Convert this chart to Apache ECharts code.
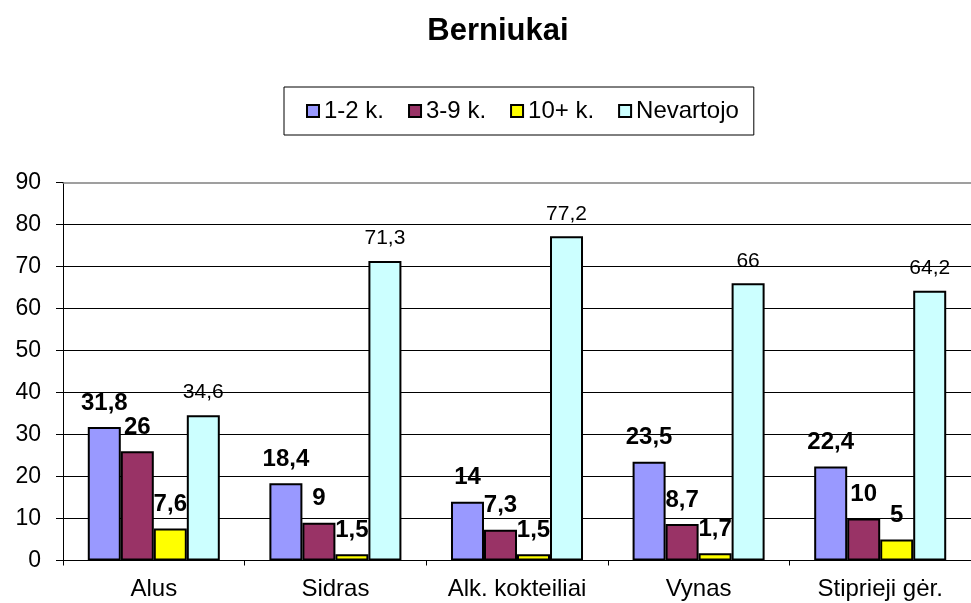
<!DOCTYPE html>
<html>
<head>
<meta charset="utf-8">
<script src="https://cdn.jsdelivr.net/npm/echarts@6/dist/echarts.min.js"></script>
<style>
html,body{margin:0;padding:0;background:#fff;}
#chart{width:971px;height:603px;}
</style>
</head>
<body>
<div id="chart"></div>
<script>
var categories = ['Alus', 'Sidras', 'Alk. kokteiliai', 'Vynas', 'Stiprieji gėr.'];
var seriesNames = ['1-2 k.', '3-9 k.', '10+ k.', 'Nevartojo'];
var s12 = [31.8, 18.4, 14, 23.5, 22.4];
var s39 = [26, 9, 7.3, 8.7, 10];
var s10 = [7.6, 1.5, 1.5, 1.7, 5];
var sNev = [34.6, 71.3, 77.2, 66, 64.2];
var seriesData = [s12, s39, s10, sNev];
var colors = ['#9999FF', '#993366', '#FFFF00', '#CCFFFF'];
var FONT = 'Arial, "Liberation Sans", sans-serif';

function fmt(p) { return String(p.value).replace('.', ','); }

var series = seriesData.map(function (d, i) {
  var last = i === 3;
  return {
    name: seriesNames[i],
    type: 'bar',
    data: d,
    barGap: '0%',
    barCategoryGap: '27.3%',
    itemStyle: { color: colors[i], borderColor: '#000', borderWidth: 2 },
    label: {
      show: true,
      position: 'top',
      distance: 12,
      formatter: fmt,
      color: '#000',
      fontFamily: FONT,
      fontSize: last ? 21 : 24,
      fontWeight: last ? 'normal' : 'bold'
    },
    emphasis: { disabled: true }
  };
});

var chart = echarts.init(document.getElementById('chart'));
chart.setOption({
  backgroundColor: '#fff',
  animation: false,
  title: {
    text: 'Berniukai',
    left: 493,
    textAlign: 'center',
    top: 11,
    textStyle: { fontFamily: FONT, fontSize: 31, fontWeight: 'bold', color: '#000' }
  },
  legend: {
    data: seriesNames,
    left: 284,
    top: 87,
    orient: 'horizontal',
    padding: [12, 15, 12, 22],
    itemGap: 24,
    itemWidth: 12,
    itemHeight: 12,
    icon: 'rect',
    borderColor: '#000',
    borderWidth: 1,
    backgroundColor: '#fff',
    itemStyle: { borderColor: '#000', borderWidth: 2 },
    textStyle: { fontFamily: FONT, fontSize: 24, color: '#000' },
    selectedMode: false
  },
  grid: { left: 63, top: 182.5, width: 912, height: 378, containLabel: false },
  xAxis: [{
    type: 'category',
    data: categories,
    axisLine: { lineStyle: { color: '#000', width: 1 } },
    axisTick: { show: true, length: 5, lineStyle: { color: '#000' } },
    axisLabel: { fontFamily: FONT, fontSize: 24, color: '#000', margin: 17 },
    splitLine: { show: false }
  }, {
    type: 'category',
    data: categories,
    position: 'top',
    axisLine: { show: true, lineStyle: { color: '#808080', width: 1.5 } },
    axisTick: { show: false },
    axisLabel: { show: false }
  }],
  yAxis: {
    type: 'value',
    min: 0,
    max: 90,
    interval: 10,
    axisLine: { show: true, lineStyle: { color: '#000', width: 1 } },
    axisTick: { show: true, length: 7, lineStyle: { color: '#000' } },
    axisLabel: { fontFamily: FONT, fontSize: 23, color: '#000', margin: 22 },
    splitLine: { show: true, showMaxLine: false, lineStyle: { color: '#000', width: 1 } }
  },
  series: series
});
</script>
</body>
</html>
